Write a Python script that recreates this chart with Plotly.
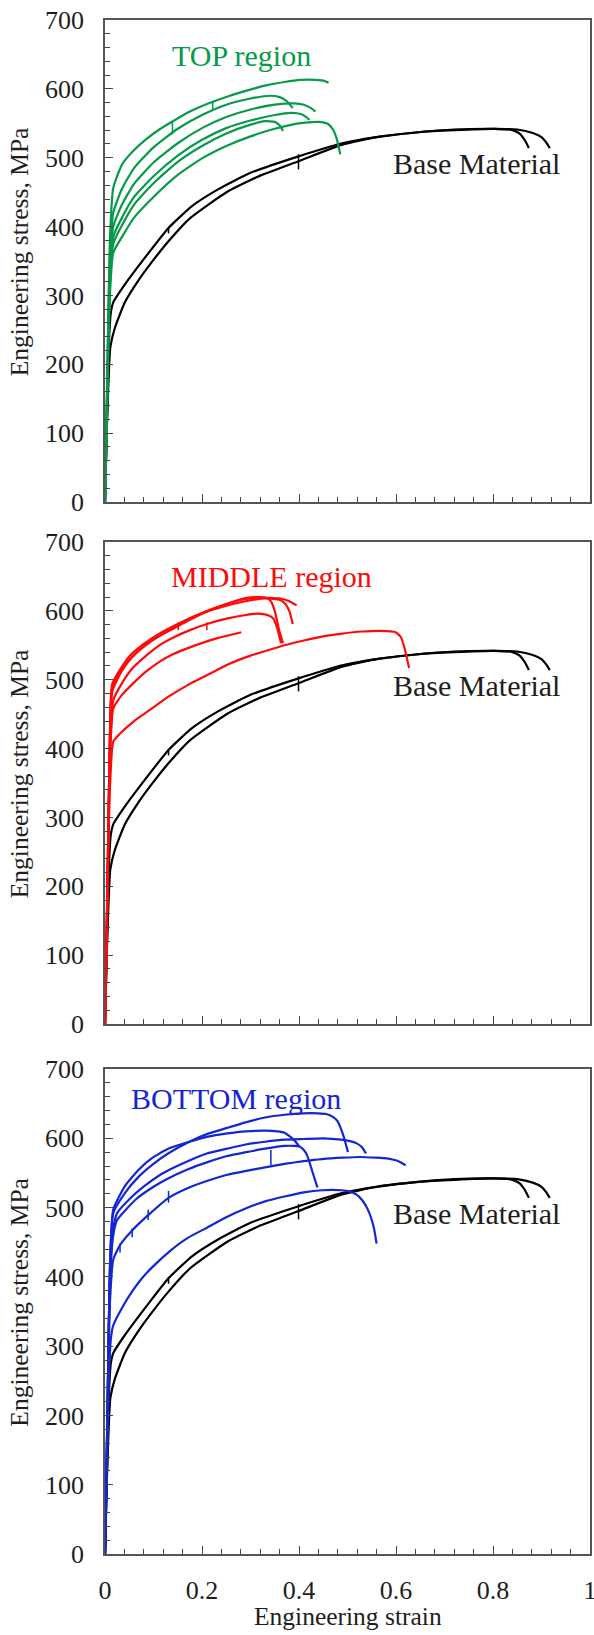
import plotly.graph_objects as go

# ---------------- data (engineering strain, engineering stress MPa) ----------------
# Base material (shown in every panel)
bm1_strain = [0, 0.004, 0.008, 0.012, 0.017, 0.04, 0.088, 0.131, 0.18, 0.233, 0.3, 0.399, 0.489, 0.56, 0.646, 0.72, 0.803, 0.84, 0.855, 0.866, 0.874]
bm1_stress = [0, 120, 230, 275, 290, 315, 360, 398, 430, 454, 478, 502, 521, 530, 537, 540, 542, 540, 535, 525, 514]
bm2_strain = [0, 0.004, 0.008, 0.011, 0.02, 0.041, 0.07, 0.096, 0.13, 0.175, 0.253, 0.32, 0.399, 0.489, 0.56, 0.646, 0.72, 0.803, 0.85, 0.882, 0.9, 0.91, 0.917]
bm2_stress = [0, 110, 190, 225, 252, 290, 323, 348, 378, 412, 451, 474, 495, 519, 530, 537, 541, 542, 541, 536, 530, 522, 514]

# TOP region
top1_strain = [0, 0.005, 0.01, 0.017, 0.035, 0.057, 0.085, 0.112, 0.14, 0.175, 0.21, 0.253, 0.29, 0.332, 0.37, 0.403, 0.434, 0.45, 0.461]
top1_stress = [0, 200, 380, 456, 490, 509, 527, 541, 553, 567, 578, 589, 597, 605, 610, 613, 613, 612, 609]
top2_strain = [0, 0.005, 0.01, 0.017, 0.035, 0.06, 0.1, 0.15, 0.2, 0.25, 0.3, 0.34, 0.36, 0.375, 0.387]
top2_stress = [0, 190, 350, 420, 455, 485, 515, 542, 562, 577, 586, 590, 588, 582, 572]
top3_strain = [0, 0.005, 0.01, 0.017, 0.035, 0.06, 0.1, 0.15, 0.2, 0.25, 0.3, 0.35, 0.39, 0.41, 0.425, 0.434]
top3_stress = [0, 180, 330, 400, 432, 462, 493, 521, 543, 559, 570, 577, 579, 577, 572, 567]
top4_strain = [0, 0.005, 0.01, 0.017, 0.035, 0.06, 0.1, 0.15, 0.2, 0.25, 0.3, 0.35, 0.385, 0.405, 0.415, 0.422]
top4_stress = [0, 175, 320, 385, 413, 443, 473, 503, 526, 543, 554, 562, 565, 563, 559, 555]
top5_strain = [0, 0.005, 0.01, 0.017, 0.035, 0.06, 0.1, 0.15, 0.2, 0.25, 0.3, 0.33, 0.35, 0.36, 0.367]
top5_stress = [0, 170, 310, 375, 402, 432, 463, 494, 517, 535, 548, 553, 552, 547, 539]
top6_strain = [0, 0.005, 0.01, 0.017, 0.035, 0.06, 0.1, 0.15, 0.2, 0.25, 0.3, 0.35, 0.4, 0.44, 0.46, 0.47, 0.478, 0.485]
top6_stress = [0, 165, 300, 362, 385, 413, 443, 475, 499, 517, 531, 542, 550, 552, 549, 541, 527, 505]

# MIDDLE region
mid1_strain = [0, 0.005, 0.01, 0.017, 0.03, 0.06, 0.096, 0.13, 0.175, 0.22, 0.253, 0.3, 0.332, 0.37, 0.41, 0.45, 0.489, 0.53, 0.568, 0.599, 0.61, 0.618, 0.627]
mid1_stress = [0, 180, 340, 410, 421, 440, 458, 475, 494, 510, 522, 535, 542, 550, 557, 563, 567, 570, 571, 569, 562, 545, 517]
mid2_strain = [0, 0.005, 0.01, 0.017, 0.035, 0.057, 0.085, 0.112, 0.14, 0.175, 0.23, 0.281]
mid2_stress = [0, 190, 380, 458, 478, 494, 512, 526, 537, 547, 560, 569]
mid3_strain = [0, 0.005, 0.01, 0.017, 0.035, 0.057, 0.085, 0.112, 0.14, 0.175, 0.21, 0.253, 0.29, 0.316, 0.335, 0.347, 0.355, 0.363]
mid3_stress = [0, 190, 390, 470, 495, 517, 535, 550, 561, 572, 581, 589, 594, 596, 594, 589, 575, 553]
mid4_strain = [0, 0.005, 0.01, 0.015, 0.033, 0.05, 0.072, 0.1, 0.135, 0.175, 0.214, 0.25, 0.292, 0.315, 0.332, 0.342, 0.35, 0.359, 0.367]
mid4_stress = [0, 200, 410, 483, 511, 528, 544, 559, 572, 587, 600, 610, 619, 620, 619, 614, 600, 572, 553]
mid5_strain = [0, 0.005, 0.01, 0.015, 0.041, 0.07, 0.096, 0.13, 0.175, 0.214, 0.253, 0.29, 0.332, 0.36, 0.372, 0.38, 0.387]
mid5_stress = [0, 200, 410, 489, 522, 542, 556, 571, 589, 600, 608, 614, 618, 616, 610, 600, 581]
mid6_strain = [0, 0.005, 0.01, 0.015, 0.049, 0.08, 0.112, 0.15, 0.19, 0.23, 0.269, 0.3, 0.332, 0.36, 0.38, 0.395]
mid6_stress = [0, 200, 420, 494, 533, 552, 567, 581, 594, 605, 614, 618, 619, 618, 614, 608]

# BOTTOM region
bot1_strain = [0, 0.005, 0.01, 0.017, 0.041, 0.07, 0.096, 0.13, 0.174, 0.21, 0.252, 0.29, 0.33, 0.37, 0.409, 0.44, 0.456, 0.47, 0.479, 0.491, 0.501]
bot1_stress = [0, 200, 410, 492, 521, 545, 561, 578, 595, 606, 615, 623, 630, 634, 636, 636, 635, 631, 625, 605, 580]
bot2_strain = [0, 0.005, 0.01, 0.017, 0.041, 0.07, 0.096, 0.13, 0.174, 0.21, 0.252, 0.29, 0.33, 0.355, 0.37, 0.389, 0.401]
bot2_stress = [0, 200, 410, 497, 531, 555, 571, 585, 595, 602, 607, 610, 611, 610, 608, 598, 588]
bot3_strain = [0, 0.005, 0.01, 0.017, 0.025, 0.056, 0.085, 0.111, 0.14, 0.174, 0.21, 0.252, 0.29, 0.33, 0.37, 0.409, 0.45, 0.487, 0.505, 0.518, 0.53, 0.538]
bot3_stress = [0, 200, 400, 470, 492, 516, 533, 546, 557, 568, 578, 585, 591, 595, 598, 599, 600, 598, 596, 593, 587, 578]
bot4_strain = [0, 0.005, 0.01, 0.017, 0.025, 0.064, 0.1, 0.127, 0.17, 0.213, 0.25, 0.291, 0.33, 0.37, 0.39, 0.401, 0.41, 0.417, 0.428, 0.438]
bot4_stress = [0, 200, 390, 460, 482, 512, 530, 541, 555, 566, 574, 580, 585, 589, 589, 588, 583, 575, 551, 529]
bot5_strain = [0, 0.005, 0.01, 0.017, 0.031, 0.056, 0.089, 0.131, 0.17, 0.213, 0.25, 0.291, 0.33, 0.37, 0.41, 0.448, 0.49, 0.526, 0.56, 0.581, 0.595, 0.605, 0.613, 0.62]
bot5_stress = [0, 180, 360, 425, 446, 467, 489, 514, 528, 539, 547, 553, 558, 563, 567, 570, 572, 573, 572, 571, 569, 567, 564, 561]
bot6_strain = [0, 0.004, 0.008, 0.012, 0.017, 0.035, 0.056, 0.075, 0.096, 0.135, 0.17, 0.213, 0.25, 0.291, 0.33, 0.37, 0.41, 0.448, 0.487, 0.505, 0.518, 0.53, 0.542, 0.554, 0.56]
bot6_stress = [0, 120, 250, 310, 330, 355, 379, 397, 413, 438, 456, 472, 486, 499, 509, 516, 522, 525, 525, 523, 519, 511, 497, 472, 448]

# small vertical jumps (extensometer marks) on curves
bm_mark_strain = [0.399, 0.131]
bm_mark_lo = [483, 390]
bm_mark_hi = [505, 400]
top_mark_strain = [0.139, 0.222]
top_mark_lo = [534, 570]
top_mark_hi = [553, 582]
mid_mark_strain = [0.151, 0.21]
mid_mark_lo = [572, 572]
mid_mark_hi = [583, 583]
bot_mark_strain = [0.031, 0.056, 0.089, 0.131, 0.342]
bot_mark_lo = [435, 457, 482, 507, 561]
bot_mark_hi = [448, 470, 497, 524, 583]

region_labels = ["TOP region", "MIDDLE region", "BOTTOM region"]
region_colors = ["#079a48", "#ff0a0a", "#1426d0"]
region_label_x = [0.281, 0.344, 0.27]
region_label_y = [649, 650, 657]
base_label = "Base Material"
y_title = "Engineering stress, MPa"
x_title = "Engineering strain"
x_ticks = [0, 0.2, 0.4, 0.6, 0.8, 1]
y_ticks = [0, 100, 200, 300, 400, 500, 600, 700]

regions = [
    [(top1_strain, top1_stress), (top2_strain, top2_stress), (top3_strain, top3_stress),
     (top4_strain, top4_stress), (top5_strain, top5_stress), (top6_strain, top6_stress)],
    [(mid1_strain, mid1_stress), (mid2_strain, mid2_stress), (mid3_strain, mid3_stress),
     (mid4_strain, mid4_stress), (mid5_strain, mid5_stress), (mid6_strain, mid6_stress)],
    [(bot1_strain, bot1_stress), (bot2_strain, bot2_stress), (bot3_strain, bot3_stress),
     (bot4_strain, bot4_stress), (bot5_strain, bot5_stress), (bot6_strain, bot6_stress)],
]
region_marks = [
    (top_mark_strain, top_mark_lo, top_mark_hi),
    (mid_mark_strain, mid_mark_lo, mid_mark_hi),
    (bot_mark_strain, bot_mark_lo, bot_mark_hi),
]

FONT = "Liberation Serif, Times New Roman, serif"
TXT = "#1e1e1e"


def marks_xy(xs, lo, hi):
    mx, my = [], []
    for s, a, b in zip(xs, lo, hi):
        mx += [s, s, None]
        my += [a, b, None]
    return mx, my


fig = go.Figure()
axis_ids = [("x", "y"), ("x2", "y2"), ("x3", "y3")]

for i, (xa, ya) in enumerate(axis_ids):
    col = region_colors[i]
    for sx, sy in [(bm1_strain, bm1_stress), (bm2_strain, bm2_stress)]:
        fig.add_trace(go.Scatter(x=sx, y=sy, mode="lines", xaxis=xa, yaxis=ya,
                                 line=dict(color="black", width=2.2, shape="spline", smoothing=0.5),
                                 showlegend=False, hoverinfo="skip"))
    mx, my = marks_xy(bm_mark_strain, bm_mark_lo, bm_mark_hi)
    fig.add_trace(go.Scatter(x=mx, y=my, mode="lines", xaxis=xa, yaxis=ya,
                             line=dict(color="black", width=1.5), showlegend=False, hoverinfo="skip"))
    for sx, sy in regions[i]:
        fig.add_trace(go.Scatter(x=sx, y=sy, mode="lines", xaxis=xa, yaxis=ya,
                                 line=dict(color=col, width=2.2, shape="spline", smoothing=0.5),
                                 showlegend=False, hoverinfo="skip"))
    mx, my = marks_xy(*region_marks[i])
    fig.add_trace(go.Scatter(x=mx, y=my, mode="lines", xaxis=xa, yaxis=ya,
                             line=dict(color=col, width=1.5), showlegend=False, hoverinfo="skip"))
    fig.add_annotation(x=region_label_x[i], y=region_label_y[i], xref=xa, yref=ya,
                       text=region_labels[i], showarrow=False, xanchor="center", yanchor="middle",
                       font=dict(family=FONT, size=30, color=col))
    fig.add_annotation(x=0.765, y=491, xref=xa, yref=ya, text=base_label, showarrow=False,
                       xanchor="center", yanchor="middle",
                       font=dict(family=FONT, size=30, color=TXT))
    # y-axis title of each panel
    fig.add_annotation(x=-0.177, y=363, xref="paper", yref=ya, text=y_title, textangle=-90,
                       showarrow=False, xanchor="center", yanchor="middle",
                       font=dict(family=FONT, size=25.5, color=TXT))

fig.add_annotation(x=0.5, y=-0.041, xref="paper", yref="paper", text=x_title, showarrow=False,
                   xanchor="center", yanchor="middle",
                   font=dict(family=FONT, size=25.5, color=TXT))

# page geometry (plot area: x 105..590 px; panels as in reference)
H_PLOT = 1534.0
domains = [
    [(1554 - 502) / H_PLOT, 1.0],
    [(1554 - 1024) / H_PLOT, (1554 - 542) / H_PLOT],
    [0.0, (1554 - 1069) / H_PLOT],
]

tickfont = dict(family=FONT, size=26, color=TXT)
common_x = dict(range=[0, 1], tickvals=x_ticks, ticks="inside", ticklen=8, tickwidth=1.2,
                tickcolor="#444444", minor=dict(dtick=0.04, tick0=0, ticks="inside", ticklen=5,
                                                tickwidth=1.1, tickcolor="#444444"),
                showline=True, mirror=True, linecolor="#555555", linewidth=1.5,
                showgrid=False, zeroline=False, tickfont=tickfont, ticklabelstandoff=12,
                ticklabeloverflow="allow", automargin=False)
common_y = dict(range=[0, 700], tickvals=y_ticks, ticks="inside", ticklen=8, tickwidth=1.2,
                tickcolor="#444444", minor=dict(dtick=20, tick0=0, ticks="inside", ticklen=5,
                                                tickwidth=1.1, tickcolor="#444444"),
                showline=True, mirror=True, linecolor="#555555", linewidth=1.5,
                showgrid=False, zeroline=False, tickfont=tickfont, ticklabelstandoff=14,
                ticklabeloverflow="allow", automargin=False)

layout = dict(
    width=594, height=1635,
    margin=dict(l=105, r=4, t=20, b=81, autoexpand=False),
    paper_bgcolor="white", plot_bgcolor="white",
    showlegend=False,
)
for i, (xa, ya) in enumerate(axis_ids):
    xkey = "xaxis" if xa == "x" else "xaxis" + xa[1:]
    ykey = "yaxis" if ya == "y" else "yaxis" + ya[1:]
    layout[xkey] = dict(common_x, anchor=ya, domain=[0, 1], showticklabels=(i == 2))
    layout[ykey] = dict(common_y, anchor=xa, domain=domains[i])

fig.update_layout(**layout)
fig.write_html(
    "out.html",
    config={"displayModeBar": False},
    post_script=["document.body.style.margin='0';document.body.style.overflow='hidden';"],
)
